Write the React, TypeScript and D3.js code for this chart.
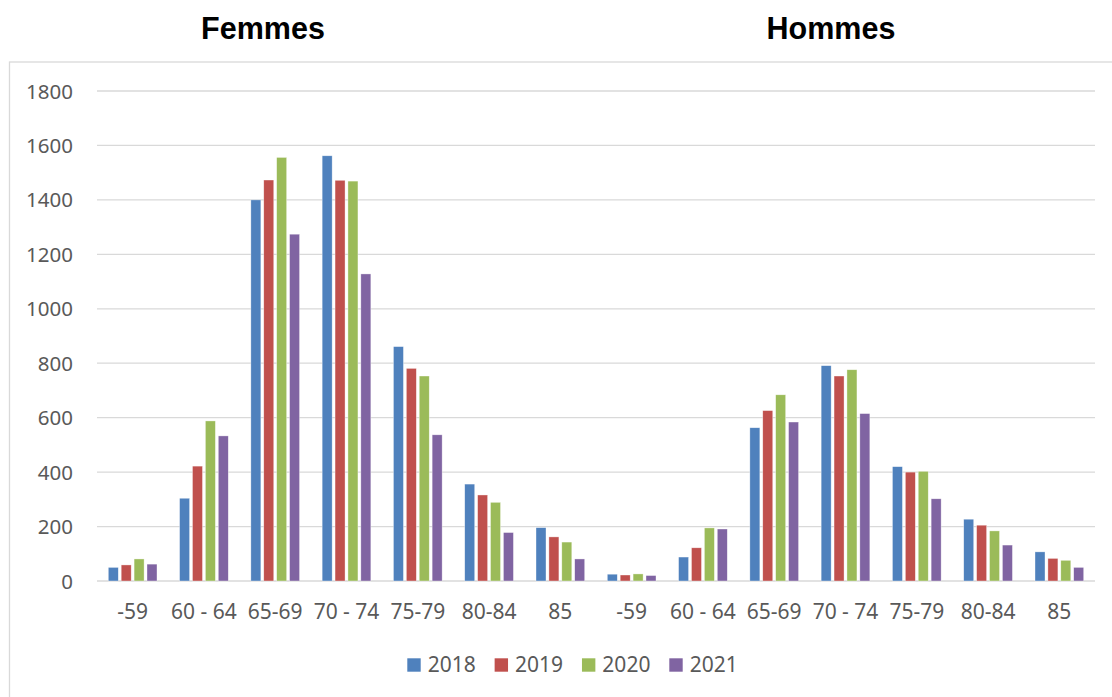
import React from "react";
import * as d3 from "d3";

const ageGroups = ["-59", "60 - 64", "65-69", "70 - 74", "75-79", "80-84", "85"];
const sexes = ["Femmes", "Hommes"];
const years = ["2018", "2019", "2020", "2021"];

const femmes2018 = [50, 304, 1400, 1562, 861, 356, 196];
const femmes2019 = [59, 422, 1473, 1472, 781, 316, 162];
const femmes2020 = [81, 588, 1556, 1469, 753, 289, 143];
const femmes2021 = [62, 533, 1274, 1128, 537, 178, 81];

const hommes2018 = [25, 88, 563, 791, 420, 227, 107];
const hommes2019 = [22, 122, 626, 753, 400, 205, 83];
const hommes2020 = [26, 195, 684, 776, 403, 184, 76];
const hommes2021 = [20, 191, 584, 615, 302, 132, 50];

const yTicks = [0, 200, 400, 600, 800, 1000, 1200, 1400, 1600, 1800];
const colors = ["#4f81bd", "#c0504d", "#9bbb59", "#8064a2"];

const seriesValues = [
  [...femmes2018, ...hommes2018],
  [...femmes2019, ...hommes2019],
  [...femmes2020, ...hommes2020],
  [...femmes2021, ...hommes2021],
];

const categories = sexes.flatMap((s) => ageGroups.map((a) => `${s}|${a}`));

export default function App() {
  const W = 1112;
  const H = 697;
  const x = d3.scaleBand<string>().domain(categories).range([97, 1095]).padding(0);
  const y = d3.scaleLinear().domain([0, 1800]).range([581, 91]);
  const groupW = 48.7;
  const off = (x.bandwidth() - groupW) / 2;
  const xs = d3.scaleBand<string>().domain(years).range([0, groupW]).paddingInner(0.225).paddingOuter(0);
  const font = "'Noto Sans', sans-serif";
  const legendX = d3.scalePoint<string>().domain(years).range([407.3, 669.3]);
  const halfCenters = [263, 831];

  return (
    <svg width={W} height={H} style={{ position: "absolute", left: 0, top: 0, background: "#fff" }}>
      <rect x={0} y={0} width={W} height={H} fill="#fff" />
      {sexes.map((s, i) => (
        <text
          key={s}
          x={halfCenters[i]}
          y={39}
          textAnchor="middle"
          fontFamily="'Liberation Sans', Arial, sans-serif"
          fontWeight="bold"
          fontSize={30.5}
          fill="#000"
        >
          {s}
        </text>
      ))}
      <rect x={9.5} y={62} width={1300} height={800} fill="none" stroke="#d9d9d9" strokeWidth={1.3} />
      {yTicks.map((t) => (
        <g key={t}>
          <line x1={97} x2={1095} y1={y(t)} y2={y(t)} stroke="#d9d9d9" strokeWidth={t === 0 ? 1.6 : 1.3} />
          <text x={73} y={y(t) + 7.5} textAnchor="end" fontFamily={font} fontSize={20.5} fill="#595959">
            {t}
          </text>
        </g>
      ))}
      {categories.map((c, ci) => (
        <g key={c} transform={`translate(${(x(c) as number) + off},0)`}>
          {years.map((yr, si) => {
            const v = seriesValues[si][ci];
            return (
              <rect
                key={yr}
                x={xs(yr) as number}
                y={y(v)}
                width={xs.bandwidth()}
                height={y(0) - y(v)}
                fill={colors[si]}
                stroke="#fff"
                strokeOpacity={0.6}
                strokeWidth={0.6}
              />
            );
          })}
        </g>
      ))}
      {categories.map((c) => (
        <text
          key={c}
          x={(x(c) as number) + x.bandwidth() / 2}
          y={619}
          textAnchor="middle"
          fontFamily={font}
          fontSize={21}
          fill="#595959"
        >
          {c.split("|")[1]}
        </text>
      ))}
      {years.map((yr, i) => (
        <g key={yr} transform={`translate(${legendX(yr)},0)`}>
          <rect x={0} y={658.3} width={13.4} height={13.4} fill={colors[i]} />
          <text x={20.4} y={672} fontFamily={font} fontSize={21} fill="#595959">
            {yr}
          </text>
        </g>
      ))}
    </svg>
  );
}
